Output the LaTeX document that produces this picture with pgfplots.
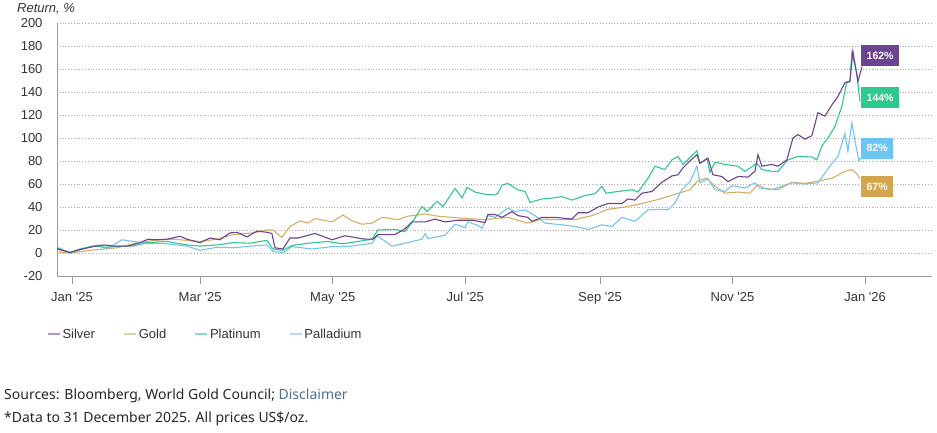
\documentclass[border=0pt]{standalone}
\usepackage{fontspec}
\setmainfont{Liberation Sans}
\newfontfamily\notofont{Noto Sans}
\usepackage{pgfplots}
\pgfplotsset{compat=1.18}
\definecolor{silverc}{HTML}{6B4390}
\definecolor{goldc}{HTML}{D6AD62}
\definecolor{goldbox}{HTML}{D3A54C}
\definecolor{platc}{HTML}{33C690}
\definecolor{platbox}{HTML}{2CCB8D}
\definecolor{pallc}{HTML}{74C4EE}
\definecolor{pallbox}{HTML}{6CC5F3}
\definecolor{axisgray}{HTML}{999999}
\definecolor{gridgray}{HTML}{AAAAAA}
\definecolor{tickgray}{HTML}{333333}
\definecolor{disclc}{HTML}{4A6F8F}
\begin{document}
\begin{tikzpicture}[x=1pt,y=1pt]
\useasboundingbox (0,0) rectangle (937,433);
\begin{axis}[
  at={(57pt,157pt)}, anchor=south west,
  scale only axis, width=875pt, height=253pt,
  xmin=-6.9, xmax=395.8, ymin=-20, ymax=200,
  axis lines=left,
  axis line style={-, draw=axisgray, line width=0.8pt},
  xtick={0,59,120,181,243,304,365},
  xticklabels={Jan \textquotesingle25, Mar \textquotesingle25, May \textquotesingle25, Jul \textquotesingle25, Sep \textquotesingle25, Nov \textquotesingle25, Jan \textquotesingle26},
  ytick={-20,0,20,40,60,80,100,120,140,160,180,200},
  ymajorgrids,
  grid style={draw=gridgray, line width=0.7pt, dash pattern=on 0.8pt off 2pt},
  tick align=outside,
  x tick style={draw=axisgray, line width=0.8pt},
  major tick length=8pt,
  y tick style={draw=none},
  /pgf/number format/assume math mode=true,
  tick label style={font=\fontsize{13}{15}\selectfont, text=tickgray},
  xticklabel style={yshift=-5pt},
  yticklabel style={xshift=-3pt},
  legend columns=4,
  legend style={at={(axis description cs:-0.012,-0.23)}, anchor=west, draw=none, fill=none,
    font=\fontsize{13}{15}\selectfont, text=tickgray, inner sep=0pt,
    /tikz/every even column/.append style={column sep=26pt}},
  legend image code/.code={\draw[#1, line width=1.8pt] (0pt,0pt) -- (12pt,0pt);},
  every axis plot/.append style={line width=1.1pt, mark=none},
]
\addlegendimage{color=silverc!55}
\addlegendentry{Silver}
\addlegendimage{color=goldc!60}
\addlegendentry{Gold}
\addlegendimage{color=platc!60}
\addlegendentry{Platinum}
\addlegendimage{color=pallc!60}
\addlegendentry{Palladium}

% Gold
\addplot[color=goldc, forget plot] coordinates {(-6.9,1)(-0.9,0)(8.3,2.3)(20.7,4.5)(28.1,8)(37.3,11)(46.5,12)(58.9,10)(66.7,12)(74.1,16)(83.3,17.5)(89.7,20)(92.5,20)(96.6,13.5)(100.3,23)(104.9,28)(108.6,26)(111.8,30)(119.7,27)(124.7,33)(128.9,28)(133.5,25)(138.1,26)(142.7,31)(150.0,29)(154.6,32)(162.5,34)(168.4,32)(174.9,31)(180.9,30)(190.1,29)(200.6,31)(209.8,26)(216.3,29.5)(223.7,29)(231.5,29)(239.3,32.5)(246.7,38)(254.5,40)(262.3,43)(269.7,46.5)(277.5,51)(284.4,55)(288.1,63)(292.2,65)(295.9,58)(300.5,52)(306.5,53)(312.0,52)(315.7,59.5)(318.9,56)(324.9,55)(331.3,61.5)(337.3,60.5)(343.3,62.5)(349.8,65)(355.7,71)(358.9,72.5)(361.2,69)(362.6,64.5)};
% Palladium
\addplot[color=pallc, forget plot] coordinates {(-6.9,5)(-0.9,0)(5.1,3.5)(11.5,7)(16.1,3.5)(23.0,11.5)(28.1,10)(34.5,8.5)(43.7,8)(52.9,6)(58.9,2.3)(66.7,5)(74.1,4.5)(81.9,6)(89.7,7)(92.5,1.5)(97.1,0)(101.2,5.5)(110.4,3.5)(119.7,5.5)(127.0,5.5)(138.1,8.5)(140.4,15)(147.3,6)(153.2,8.5)(161.1,12)(162.5,17)(163.8,12.5)(171.7,15.5)(176.3,25)(180.9,22)(182.2,27)(186.8,24)(188.7,21.5)(191.4,32.5)(194.7,31)(200.6,39)(203.9,36)(208.5,37.5)(213.1,32.5)(217.7,26)(225.5,24.5)(231.5,23)(237.5,20.5)(243.9,24.5)(248.5,23)(253.1,31)(259.1,27.5)(265.1,37.5)(271.5,38)(274.3,37.5)(277.5,43.5)(280.7,55)(284.4,62)(287.6,75.5)(289.0,61)(292.7,64.5)(295.9,55)(300.5,53.5)(303.7,58.5)(309.7,56.5)(314.3,61)(316.6,56.5)(322.1,55)(326.7,58)(331.3,61)(337.3,60)(343.3,61)(346.5,69.5)(349.8,78)(352.5,84)(355.7,104)(357.1,88.5)(358.9,113)(360.8,93)(362.2,80)(363.6,84)};
% Platinum
\addplot[color=platc, forget plot] coordinates {(-6.9,4.5)(-0.9,0.5)(3.7,3.5)(9.7,6)(16.1,5)(22.1,6)(28.1,6)(34.5,9)(43.7,10)(52.9,7)(58.9,6)(66.7,7)(74.1,9)(81.9,8.5)(89.7,11)(92.5,3.5)(97.1,2.3)(101.2,6.5)(108.6,8.5)(117.8,10)(124.3,8)(131.6,10)(138.1,12)(140.8,20)(148.6,20.5)(153.2,18.5)(156.9,27.5)(161.1,40.5)(163.4,36)(168.0,45)(170.7,40.5)(176.3,56)(179.5,48)(181.8,57)(185.5,53)(190.1,51)(194.7,50.5)(196.0,52)(197.9,59)(200.6,60.5)(205.2,55)(208.5,53.5)(210.8,44)(216.3,47)(222.3,48)(225.5,49)(230.1,46)(236.1,50)(240.7,51.5)(243.9,58)(245.7,52)(251.3,53.5)(257.7,55)(260.5,53)(265.1,65)(268.3,75.5)(272.9,72.5)(276.1,81)(278.9,84)(281.2,77)(284.4,83)(287.6,89)(289.0,78)(292.2,82)(293.6,70)(295.9,79)(300.5,77)(306.5,75.5)(309.7,71)(315.2,78)(317.5,72.5)(322.1,71)(324.9,71)(329.5,81)(334.1,84)(340.5,83.5)(342.8,81)(345.1,93)(347.9,100)(351.1,110)(354.3,127.5)(356.6,149)(358.0,149)(358.9,174)(361.2,156.5)(362.6,132)};
% Silver
\addplot[color=silverc, forget plot] coordinates {(-6.9,3.5)(-0.9,0.5)(3.7,3)(8.3,5)(14.3,7)(19.8,6)(25.8,6)(31.3,9)(35.0,12)(39.1,11.5)(43.7,12)(49.7,14.5)(52.9,12)(58.9,9)(63.5,13)(68.1,11.5)(72.7,17.5)(75.9,18)(80.5,14)(85.1,19)(89.7,18)(92.0,17)(93.4,4.5)(97.1,3.5)(100.3,13)(104.0,13)(111.8,17)(119.7,11.5)(125.6,15)(134.8,12)(138.5,12)(140.8,16)(148.6,16)(153.2,21)(156.5,27)(162.5,27)(167.1,29.5)(171.7,27)(177.6,28.5)(184.1,28.5)(190.1,26.5)(191.4,33.5)(194.7,33.5)(197.9,31)(202.5,36)(205.2,32.5)(209.8,31)(211.7,27.5)(216.3,31)(222.3,31)(230.1,29.5)(232.9,35)(237.5,35)(242.1,40)(246.7,43)(253.1,43)(255.9,47)(259.1,46)(262.3,52)(266.9,53.5)(271.5,61.5)(276.1,67)(278.9,68)(281.2,74)(284.4,80)(287.6,85.5)(289.0,78)(292.7,82.5)(295.0,68)(299.1,66.5)(301.9,62)(306.5,66.5)(311.1,66)(314.3,71)(315.7,85.5)(317.5,75.5)(322.1,77)(324.9,75.5)(329.0,81)(331.8,100)(334.1,103)(337.3,99)(340.5,102)(343.3,122)(346.5,119)(349.8,129)(352.5,136)(355.7,148)(358.0,149)(359.4,175.5)(361.7,149)(363.6,162)};

\tikzset{endlbl/.style={anchor=west, text=white, inner sep=0pt, minimum height=21pt,
  font=\bfseries\fontsize{10.5}{12}\selectfont}}
\node[endlbl, fill=silverc, minimum width=38pt] at (axis cs:363.1,171.5) {162\%};
\node[endlbl, fill=platbox, minimum width=38pt] at (axis cs:363.1,135.2) {144\%};
\node[endlbl, fill=pallbox, minimum width=32pt] at (axis cs:363.1,91.3) {82\%};
\node[endlbl, fill=goldbox, minimum width=32pt] at (axis cs:363.1,57.9) {67\%};
\end{axis}
\node[anchor=base west, inner sep=0pt, text=tickgray, font=\itshape\fontsize{13}{15}\selectfont] at (17,420) {Return, \%};
\node[anchor=base west, inner sep=0pt, text=black!85, font=\notofont\fontsize{14}{16}\selectfont] at (4,33.5) {Sources: Bloomberg, World Gold Council; \textcolor{disclc}{Disclaimer}};
\node[anchor=base west, inner sep=0pt, text=black!85, font=\notofont\fontsize{14}{16}\selectfont] at (4,10) {*Data to 31 December 2025. All prices US\$/oz.};
\end{tikzpicture}
\end{document}
